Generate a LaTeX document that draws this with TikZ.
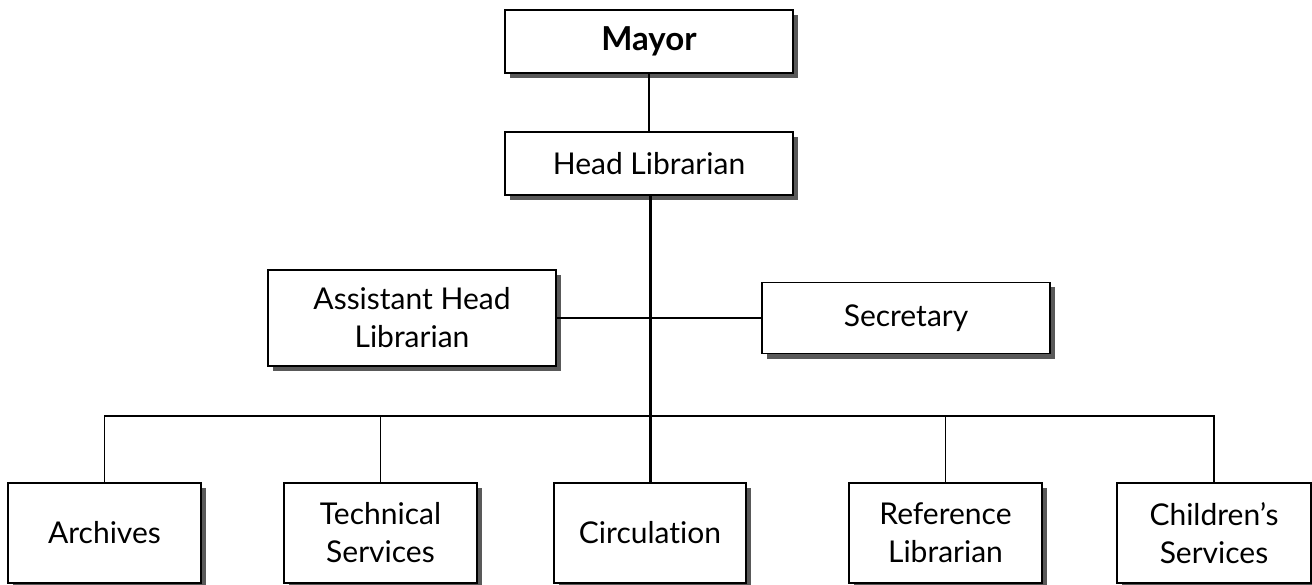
\documentclass[tikz,border=0pt]{standalone}
\usepackage{fontspec}
\setmainfont{Lato}[Ligatures={NoCommon}]
\usetikzlibrary{shadows}
\begin{document}
\begin{tikzpicture}[x=1pt,y=-1pt,
  box/.style={draw=black,line width=1.4pt,fill=white,align=center,
    inner sep=0pt,font=\fontsize{30}{38}\selectfont,
    drop shadow={shadow xshift=5pt,shadow yshift=-5pt,fill=black!65,opacity=1}},
  link/.style={line width=1.6pt},
  trunk/.style={line width=3pt}]
\useasboundingbox (0,0) rectangle (1312,585);
% top of the chain
\node[box,minimum width=288pt,minimum height=63pt,font=\fontsize{33}{38}\selectfont\bfseries] (mayor) at (649,41.5) {Mayor};
\node[box,minimum width=288pt,minimum height=63pt] (head) at (649,163.5) {Head Librarian};
% staff positions
\node[box,minimum width=288pt,minimum height=96pt] (asst) at (412,318) {Assistant Head\\Librarian};
\node[box,minimum width=288pt,minimum height=71pt] (sec) at (906,318) {Secretary};
% departments
\node[box,minimum width=193pt,minimum height=100pt] (arch) at (104.5,533) {Archives};
\node[box,minimum width=193pt,minimum height=100pt] (tech) at (380.5,533) {Technical\\Services};
\node[box,minimum width=192pt,minimum height=100pt] (circ) at (650,533) {Circulation};
\node[box,minimum width=193pt,minimum height=100pt] (ref) at (945.5,533) {Reference\\Librarian};
\node[box,minimum width=194pt,minimum height=100pt] (child) at (1214,533) {Children’s\\Services};
\coordinate (bus) at (650,416);
% connectors
\draw[link] (mayor.south) -- (head.north);
\draw[link] (asst.east) -- (sec.west);
\draw[link] (arch.north) |- (bus) -| (child.north);
\draw[link] (tech.north) -- (tech.north |- bus);
\draw[link] (ref.north) -- (ref.north |- bus);
\draw[trunk] (head.south -| bus) -- (bus) -- (circ.north);
\end{tikzpicture}
\end{document}
